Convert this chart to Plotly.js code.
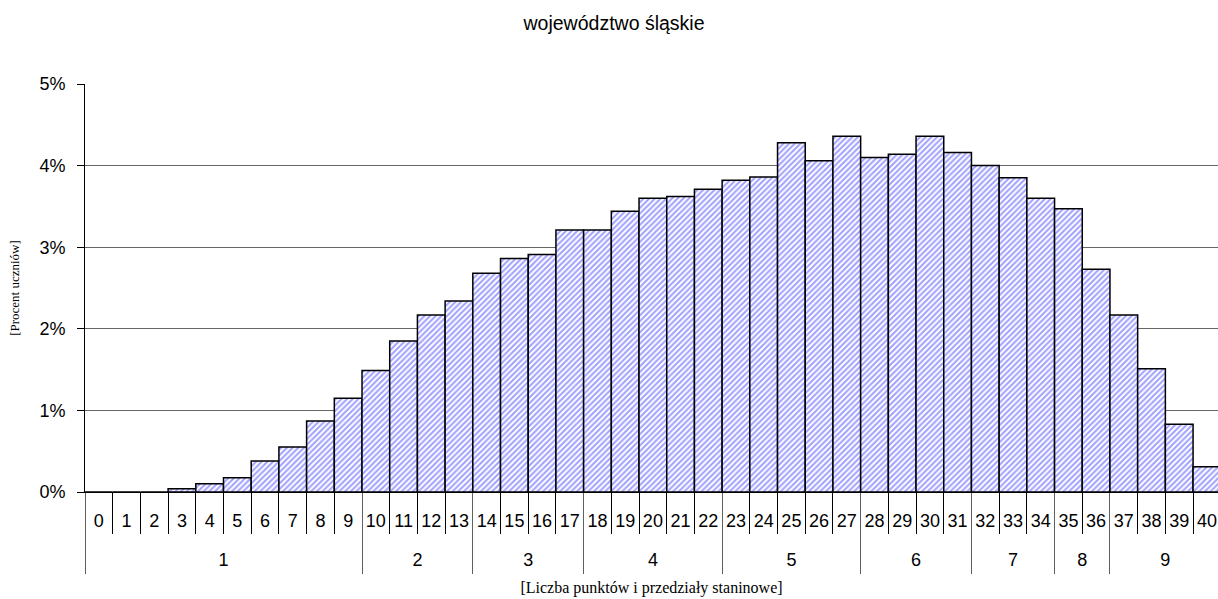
<!DOCTYPE html>
<html>
<head>
<meta charset="utf-8">
<script src="https://cdn.plot.ly/plotly-3.0.1.min.js"></script>
<style>html,body{margin:0;padding:0;overflow:hidden;background:#fff}</style>
</head>
<body>
<div id="chart" style="width:1218px;height:599px"></div>
<script>
// Liczba punktów (0-40)
var points = ["0","1","2","3","4","5","6","7","8","9","10","11","12","13","14","15","16","17","18","19","20",
              "21","22","23","24","25","26","27","28","29","30","31","32","33","34","35","36","37","38","39","40"];
// Przedziały staninowe for each point
var stanines = ["1","1","1","1","1","1","1","1","1","1",
                "2","2","2","2",
                "3","3","3","3",
                "4","4","4","4","4",
                "5","5","5","5","5",
                "6","6","6","6",
                "7","7","7",
                "8","8",
                "9","9","9","9"];
// Procent uczniów
var percents = [0,0,0,0.04,0.10,0.175,0.38,0.55,0.87,1.15,
                1.49,1.85,2.17,2.34,2.68,2.86,2.91,3.21,3.21,3.44,
                3.60,3.62,3.71,3.82,3.86,4.28,4.06,4.36,4.10,4.14,
                4.36,4.16,4.00,3.85,3.60,3.47,2.73,2.17,1.51,0.83,0.31];
var yTicks = [0,1,2,3,4,5];
var yTickText = ["0%","1%","2%","3%","4%","5%"];

// Group label positions (centres) and group boundaries, derived from the stanine array
var groupNames = [], groupCenters = [], groupBounds = [-0.5];
(function () {
  var start = 0;
  for (var i = 1; i <= stanines.length; i++) {
    if (i === stanines.length || stanines[i] !== stanines[start]) {
      groupNames.push(stanines[start]);
      groupCenters.push((start + i - 1) / 2);
      groupBounds.push(i - 0.5);
      start = i;
    }
  }
})();

var xRange = [-0.5, 40.4];
var font = 'Liberation Sans, Arial, sans-serif';
var serif = 'Liberation Serif, Times New Roman, serif';

var trace = {
  type: 'bar',
  x: points,
  y: percents,
  marker: {
    color: 'white',
    line: {color: '#000000', width: 1.5},
    pattern: {shape: '/', fgcolor: '#a0a0ff', bgcolor: '#ffffff', size: 4, solidity: 0.5}
  },
  hoverinfo: 'skip'
};
// invisible helpers so that the stanine label axis and the divider axis are drawn
var groupAxisTrace = {
  type: 'scatter', mode: 'markers', xaxis: 'x2', yaxis: 'y',
  x: groupCenters, y: groupCenters.map(function () { return null; }),
  hoverinfo: 'skip', showlegend: false
};
var dividerAxisTrace = {
  type: 'scatter', mode: 'markers', xaxis: 'x3', yaxis: 'y',
  x: groupBounds, y: groupBounds.map(function () { return null; }),
  hoverinfo: 'skip', showlegend: false
};

var layout = {
  width: 1218, height: 599,
  margin: {l: 85, r: 0, t: 84, b: 107},
  paper_bgcolor: '#ffffff', plot_bgcolor: '#ffffff',
  bargap: 0,
  showlegend: false,
  font: {family: font, color: '#000000', size: 18},
  title: {
    text: 'województwo śląskie',
    font: {family: font, size: 19.5, color: '#000000'},
    x: 614/1218, xanchor: 'center', xref: 'container',
    y: 1 - 23/599, yanchor: 'middle', yref: 'container'
  },
  xaxis: {
    type: 'category',
    categoryorder: 'array', categoryarray: points,
    range: xRange,
    showline: true, linecolor: '#000000', linewidth: 1,
    ticks: 'outside', tickson: 'boundaries', ticklen: 41, tickcolor: '#000000', tickwidth: 1,
    ticklabelstandoff: 12,
    tickangle: 0,
    showgrid: false, zeroline: false,
    automargin: true,
    tickfont: {family: font, size: 18, color: '#000000'},
    title: {
      text: '[Liczba punktów i przedziały staninowe]',
      standoff: 52,
      font: {family: serif, size: 16, color: '#000000'}
    }
  },
  xaxis2: {
    type: 'linear',
    overlaying: 'x', anchor: 'y', side: 'bottom',
    range: xRange,
    tickvals: groupCenters, ticktext: groupNames,
    ticks: '', showline: false, showgrid: false, zeroline: false,
    ticklabelstandoff: 55,
    tickangle: 0,
    tickfont: {family: font, size: 18, color: '#000000'}
  },
  xaxis3: {
    type: 'linear',
    overlaying: 'x', anchor: 'y', side: 'bottom',
    range: xRange,
    tickvals: groupBounds,
    showticklabels: false,
    ticks: 'outside', ticklen: 81, tickcolor: '#606060', tickwidth: 1,
    showline: false, showgrid: false, zeroline: false
  },
  yaxis: {
    range: [0, 5],
    tickvals: yTicks,
    ticktext: yTickText,
    showline: true, linecolor: '#000000', linewidth: 1,
    ticks: 'outside', ticklen: 7, tickcolor: '#000000',
    ticklabelstandoff: 8,
    showgrid: true, gridcolor: '#666666', gridwidth: 1,
    zeroline: false,
    automargin: true,
    tickfont: {family: font, size: 18, color: '#000000'},
    title: {
      text: '[Procent uczniów]',
      standoff: 16,
      font: {family: serif, size: 13, color: '#000000'}
    }
  }
};

Plotly.newPlot('chart', [trace, groupAxisTrace, dividerAxisTrace], layout, {displayModeBar: false, staticPlot: true});
</script>
</body>
</html>
